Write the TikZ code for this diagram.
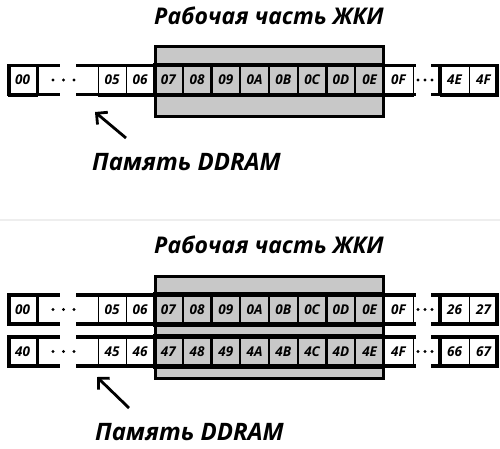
\documentclass[tikz,border=0pt]{standalone}
\usepackage{fontspec}
\setmainfont{Open Sans}
\usetikzlibrary{arrows.meta}
\definecolor{lcd}{HTML}{C8C8C8}
\definecolor{sep}{HTML}{EEEEEE}
\tikzset{
  cellw/.style={rectangle, draw=black, line width=0.9pt, fill=white, minimum width=28.75pt,
    minimum height=32pt, inner sep=0pt, font=\fontsize{13.5}{13.5}\selectfont\bfseries\itshape},
  cellg/.style={cellw, fill=lcd, line width=2.4pt},
  frameline/.style={line width=3.2pt, line cap=rect},
  lcdbox/.style={line width=3.2pt},
  titletext/.style={inner sep=0pt, font=\fontsize{23}{23}\selectfont\bfseries\itshape},
  memtext/.style={inner sep=0pt, font=\fontsize{24}{24}\selectfont\bfseries\itshape},
  ptr/.style={line width=2.8pt, -{Straight Barb[length=8pt, width=16pt]}},
  dotmark/.style={fill=black}
}
% #1 y centre, #2 prefix, #3-#5 left labels, #6 grey labels, #7-#9 right labels
\newcommand\memrow[9]{%
  \node[cellw, minimum width=29pt] (#2#3) at (22.5,#1) {#3};
  \node[cellw, minimum width=28pt] (#2#4) at (112,#1) {#4};
  \node[cellw, minimum width=28pt] (#2#5) at (140,#1) {#5};
  \foreach \l [count=\i from 0] in {#6}
    \node[cellg] (#2\l) at ({154+28.75*(\i+0.5)},#1) {\l};
  \node[cellw, minimum width=29pt] (#2#7) at (398.5,#1) {#7};
  \node[cellw, minimum width=29pt] (#2#8) at (454.5,#1) {#8};
  \node[cellw, minimum width=29pt] (#2#9) at (483.5,#1) {#9};
  \foreach \yy in {-14.5,14.5} {
    \draw[frameline] (9,{#1+\yy}) -- (58,{#1+\yy});
    \draw[frameline] (78,{#1+\yy}) -- (414,{#1+\yy});
    \draw[frameline] (433,{#1+\yy}) -- (497,{#1+\yy});
  }
  \draw[frameline] (9,{#1-14.5}) -- (9,{#1+14.5});
  \draw[frameline] (37.5,{#1-14.5}) -- (37.5,{#1+14.5});
  \draw[frameline] (440,{#1-14.5}) -- (440,{#1+14.5});
  \draw[frameline] (497,{#1-14.5}) -- (497,{#1+14.5});
  \foreach \xx in {53,63.5,74} \fill[dotmark] (\xx,#1) circle (1.6);
  \foreach \xx in {418,425,432} \fill[dotmark] (\xx,#1) circle (1.6);
}
\begin{document}
\begin{tikzpicture}[x=1pt,y=-1pt]
  \useasboundingbox (0,0) rectangle (500,448);
  \fill[white] (0,0) rectangle (500,448);
  \draw[sep, line width=2pt] (0,220) -- (500,220);

  % ---------- top diagram ----------
  \node[titletext, anchor=base] (title1) at (269,24) {Рабочая часть ЖКИ};
  \fill[lcd] (155.5,46.5) rectangle (383.5,116.5);
  \memrow{80}{a}{00}{05}{06}{07,08,09,0A,0B,0C,0D,0E}{0F}{4E}{4F}
  \draw[lcdbox] (155.5,46.5) rectangle (383.5,116.5);
  \node[memtext, anchor=base west] (mem1) at (92,170) {Память DDRAM};
  \coordinate (tail1) at (126,138);
  \coordinate (head1) at (95,112);
  \draw[ptr] (tail1) -- (head1);

  % ---------- bottom diagram ----------
  \node[titletext, anchor=base] (title2) at (269,253) {Рабочая часть ЖКИ};
  \fill[lcd] (155.5,276.5) rectangle (383.5,378.5);
  \memrow{309.5}{b}{00}{05}{06}{07,08,09,0A,0B,0C,0D,0E}{0F}{26}{27}
  \memrow{351.5}{c}{40}{45}{46}{47,48,49,4A,4B,4C,4D,4E}{4F}{66}{67}
  \draw[lcdbox] (155.5,276.5) rectangle (383.5,378.5);
  \node[memtext, anchor=base west] (mem2) at (95,440) {Память DDRAM};
  \coordinate (tail2) at (129,408);
  \coordinate (head2) at (97,377);
  \draw[ptr] (tail2) -- (head2);
\end{tikzpicture}
\end{document}
